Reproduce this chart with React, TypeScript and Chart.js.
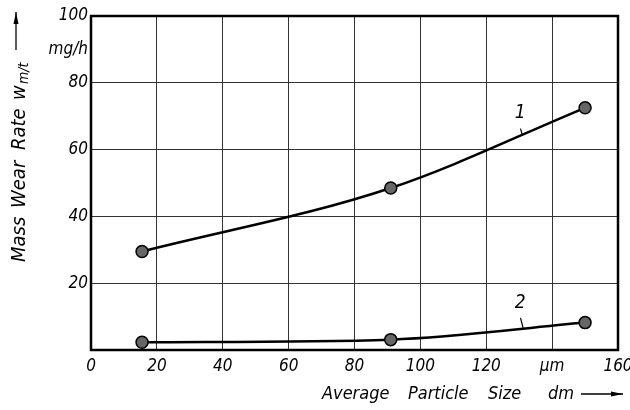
import { useEffect, useRef } from 'react';
import { Chart, registerables } from 'chart.js';
Chart.register(...registerables);

const particleSize1 = [15.5, 91, 150];
const wearRate1 = [29.5, 48.5, 72.5];
const particleSize2 = [15.5, 91, 150];
const wearRate2 = [2.3, 3.1, 8.2];

const xTickValues = [0, 20, 40, 60, 80, 100, 120, 140, 160];
const xTickLabels = ['0', '20', '40', '60', '80', '100', '120', 'µm', '160'];
const yTickValues = [0, 20, 40, 60, 80, 90, 100];
const yTickLabels = ['', '20', '40', '60', '80', 'mg/h', '100'];

const curveLabels = ['1', '2'];

const FONT = '"Liberation Sans Narrow", "DejaVu Sans Condensed", "Liberation Sans"';

const annotationPlugin = {
  id: 'annot',
  afterDraw(chart: any) {
    const ctx = chart.ctx as CanvasRenderingContext2D;
    const { left, right, top, bottom } = chart.chartArea;
    const xs = chart.scales.x;
    const ys = chart.scales.y;
    ctx.save();
    ctx.strokeStyle = '#000';
    ctx.lineWidth = 2.5;
    ctx.strokeRect(left, top, right - left, bottom - top);

    ctx.fillStyle = '#000';
    ctx.font = `italic 19px ${FONT}`;
    ctx.textAlign = 'center';
    ctx.textBaseline = 'middle';
    const labelPos = [
      { lx: 130.3, ly: 71, a: [130.4, 66.3], b: [131, 64.2] },
      { lx: 130.3, ly: 14.2, a: [130.4, 9.6], b: [131.3, 6.2] },
    ];
    labelPos.forEach((p, i) => {
      ctx.fillText(curveLabels[i], xs.getPixelForValue(p.lx), ys.getPixelForValue(p.ly));
      ctx.lineWidth = 1.2;
      ctx.beginPath();
      ctx.moveTo(xs.getPixelForValue(p.a[0]), ys.getPixelForValue(p.a[1]));
      ctx.lineTo(xs.getPixelForValue(p.b[0]), ys.getPixelForValue(p.b[1]));
      ctx.stroke();
    });

    const arrow = (x1: number, y1: number, x2: number, y2: number) => {
      ctx.lineWidth = 1.3;
      ctx.beginPath();
      ctx.moveTo(x1, y1);
      ctx.lineTo(x2, y2);
      ctx.stroke();
      const ang = Math.atan2(y2 - y1, x2 - x1);
      ctx.beginPath();
      ctx.moveTo(x2, y2);
      ctx.lineTo(x2 - 12 * Math.cos(ang) + 2.5 * Math.sin(ang), y2 - 12 * Math.sin(ang) - 2.5 * Math.cos(ang));
      ctx.lineTo(x2 - 12 * Math.cos(ang) - 2.5 * Math.sin(ang), y2 - 12 * Math.sin(ang) + 2.5 * Math.cos(ang));
      ctx.closePath();
      ctx.fill();
    };

    ctx.textAlign = 'left';
    ctx.textBaseline = 'alphabetic';
    ctx.font = `italic 18px ${FONT}`;
    const xWords: [string, number][] = [['Average', 322], ['Particle', 408], ['Size', 488], ['dm', 548]];
    xWords.forEach(([w, x]) => ctx.fillText(w, x, 399));
    arrow(581, 394, 623, 394);

    ctx.save();
    ctx.translate(25, 262);
    ctx.rotate(-Math.PI / 2);
    ctx.font = `italic 20px ${FONT}`;
    const yWords: [string, number][] = [['Mass', 0], ['Wear', 54], ['Rate', 112], ['w', 162]];
    yWords.forEach(([w, u]) => ctx.fillText(w, u, 0));
    ctx.font = `italic 14px ${FONT}`;
    ctx.fillText('m/t', 178, 3);
    arrow(212, -9, 250, -9);
    ctx.restore();

    ctx.restore();
  },
};

export default function App() {
  const ref = useRef<HTMLCanvasElement>(null);
  useEffect(() => {
    document.body.style.margin = '0';
    const tickFont = { family: FONT, size: 17, style: 'italic' as const };
    const ds = (xs: number[], ys: number[]) => ({
      data: xs.map((x, i) => ({ x, y: ys[i] })),
      borderColor: '#000',
      borderWidth: 2.5,
      cubicInterpolationMode: 'monotone' as const,
      pointRadius: 6,
      pointBackgroundColor: '#666',
      pointBorderColor: '#000',
      pointBorderWidth: 1.5,
    });
    const chart = new Chart(ref.current!, {
      type: 'line',
      data: {
        datasets: [ds(particleSize1, wearRate1), ds(particleSize2, wearRate2)],
      },
      options: {
        responsive: false,
        animation: false,
        layout: { padding: { left: 0, top: 16, right: 12, bottom: 0 } },
        plugins: { legend: { display: false }, tooltip: { enabled: false } },
        scales: {
          x: {
            type: 'linear',
            min: 0,
            max: 160,
            afterBuildTicks: (s: any) => {
              s.ticks = xTickValues.map((v) => ({ value: v }));
            },
            afterFit: (s: any) => {
              s.height = 60;
              s.paddingLeft = 0;
              s.paddingRight = 0;
            },
            ticks: {
              autoSkip: false,
              maxRotation: 0,
              padding: 6,
              color: '#000',
              font: tickFont,
              callback: (v: any) => {
                const i = xTickValues.indexOf(Number(v));
                return i >= 0 ? xTickLabels[i] : '';
              },
            },
            grid: { color: '#333', lineWidth: 1, drawTicks: false },
            border: { display: false },
          },
          y: {
            type: 'linear',
            min: 0,
            max: 100,
            afterBuildTicks: (s: any) => {
              s.ticks = yTickValues.map((v) => ({ value: v }));
            },
            afterFit: (s: any) => {
              s.width = 91;
              s.paddingTop = 0;
              s.paddingBottom = 0;
            },
            ticks: {
              autoSkip: false,
              padding: 3,
              color: '#000',
              font: tickFont,
              callback: (v: any) => {
                const i = yTickValues.indexOf(Number(v));
                return i >= 0 ? yTickLabels[i] : '';
              },
            },
            grid: {
              color: (c: any) => (c.tick && c.tick.value % 20 === 0 ? '#333' : 'rgba(0,0,0,0)'),
              lineWidth: 1,
              drawTicks: false,
            },
            border: { display: false },
          },
        },
      },
      plugins: [annotationPlugin],
    });
    return () => chart.destroy();
  }, []);
  return <canvas ref={ref} width={630} height={410} />;
}
